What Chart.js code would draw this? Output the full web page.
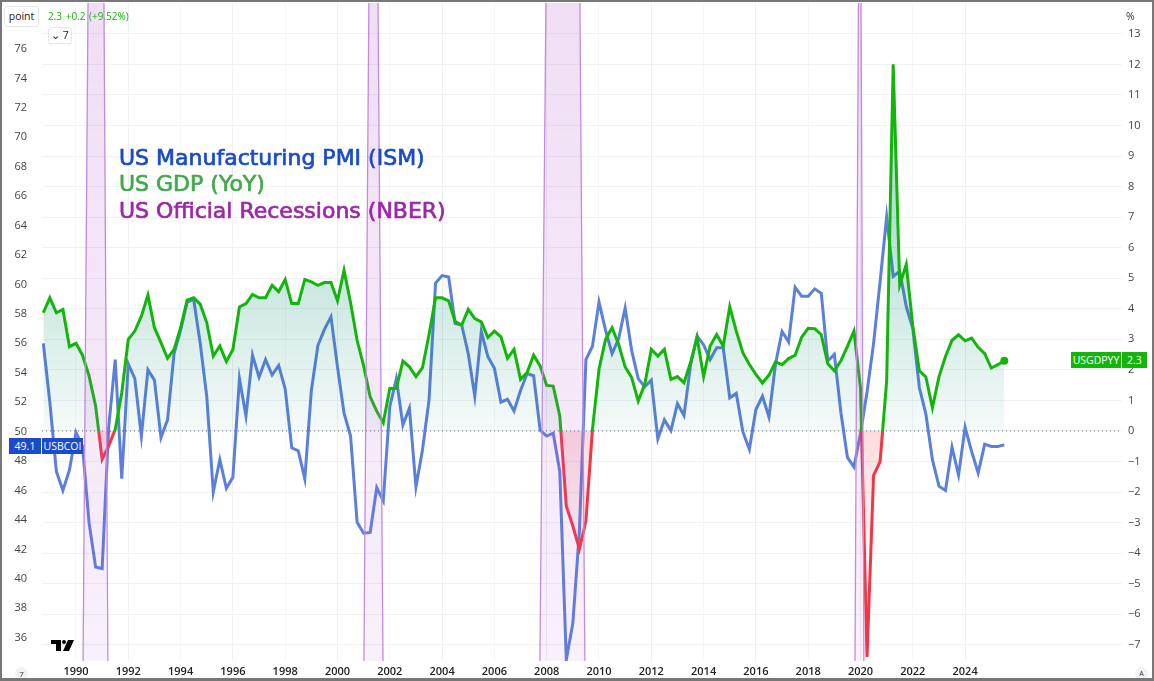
<!DOCTYPE html>
<html>
<head>
<meta charset="utf-8">
<title>US PMI vs GDP</title>
<script src="https://cdn.jsdelivr.net/npm/chart.js@4"></script>
<style>
    html, body { margin: 0; padding: 0; background: #fff; }
    #wrap { position: relative; width: 1154px; height: 681px; overflow: hidden; font-family: "Open Sans", sans-serif; }
    #wrap::after { content: ""; position: absolute; inset: 0; border: 2px solid #777; border-bottom-width: 3px; pointer-events: none; }
    canvas { position: absolute; left: 0; top: 0; }
    .tag { position: absolute; color: #fff; font-size: 10.5px; line-height: 16px; height: 16px; text-align: center; }
    .blue { background: #1a4bc8; }
    .green { background: #12b50a; }
    .title { position: absolute; left: 119px; font-size: 22px; line-height: 26px; white-space: nowrap; font-family: "DejaVu Sans", sans-serif; -webkit-text-stroke: 0.7px currentColor; }
    .box { position: absolute; background: #fff; border: 1px solid #e4e6ec; border-radius: 3px; color: #222; font-size: 10.5px; text-align: center; }
</style>
</head>
<body>
<div id="wrap">
    <canvas id="chart" width="1154" height="681"></canvas>

    <div class="box" style="left:4px;top:6px;width:33px;height:19px;line-height:19px;">point</div>
    <div style="position:absolute;left:48px;top:9px;font-size:10px;color:#12b50a;white-space:nowrap;word-spacing:1px;">2.3 +0.2 (+9.52%)</div>
    <div class="box" style="left:48px;top:27px;width:22px;height:15px;line-height:15px;">&#8964; 7</div>
    <div style="position:absolute;left:1126px;top:9px;font-size:10.5px;color:#333;">%</div>

    <div class="title" style="top:145px;color:#1a4bc8;">US Manufacturing PMI (ISM)</div>
    <div class="title" style="top:171px;color:#43a84a;">US GDP (YoY)</div>
    <div class="title" style="top:198px;color:#9c27a8;">US Official Recessions (NBER)</div>

    <div class="tag blue" style="left:9px;top:438px;width:32px;">49.1</div>
    <div class="tag blue" style="left:42px;top:438px;width:41px;">USBCOI</div>
    <div class="tag green" style="left:1071px;top:352px;width:50px;">USGDPYY</div>
    <div class="tag green" style="left:1122px;top:352px;width:25px;">2.3</div>

    <svg style="position:absolute;left:51px;top:640px;" width="24" height="12" viewBox="0 0 24 12">
        <path d="M0 0h10v11H5V4H0z" fill="#000"/>
        <circle cx="13" cy="2" r="2" fill="#000"/>
        <path d="M17 0h6l-5 11h-6z" fill="#000"/>
    </svg>
    <div style="position:absolute;left:15px;top:667px;width:13px;height:13px;border-radius:50%;background:#f1f2f5;font-size:8px;line-height:13px;text-align:center;color:#333;">7</div>
    <div style="position:absolute;left:1135px;top:667px;width:13px;height:13px;border-radius:50%;background:#f1f2f5;font-size:7px;line-height:13px;text-align:center;color:#333;">A</div>
</div>

<script>
// quarterly points, first one is Q4 1988
const firstQuarter = 1988.75;

// ISM manufacturing PMI
const pmiValues = [
    56.0, 52.0, 47.3, 46.0, 47.4, 49.95, 49.0, 43.8, 40.8, 40.7, 50.3, 54.9,
    46.8, 54.6, 53.6, 49.7, 54.2, 53.5, 49.6, 50.8, 55.3, 56.9, 58.8, 59.0,
    56.0, 52.4, 45.9, 48.1, 46.15, 46.9, 53.6, 51.06, 55.2, 53.7, 54.9, 53.85,
    54.5, 52.9, 48.9, 48.7, 46.8, 52.8, 55.85, 56.95, 57.8, 54.4, 51.25, 49.7,
    43.85, 43.1, 43.15, 46.2, 45.3, 51.7, 53.6, 50.45, 51.6, 46.25, 48.75, 52.15,
    60.1, 60.6, 60.5, 57.35, 57.25, 55.3, 52.4, 56.8, 55.1, 54.3, 52.0, 52.2,
    51.4, 52.8, 53.95, 53.8, 50.1, 49.7, 49.9, 47.3, 34.5, 37.0, 43.2, 54.9,
    55.8, 58.8, 56.9, 55.3, 56.3, 58.4, 55.5, 53.6, 53.05, 53.5, 49.5, 50.8,
    50.07, 51.9, 51.1, 54.5, 56.5, 55.9, 54.9, 55.7, 55.7, 52.3, 52.6, 50.0,
    48.8, 51.5, 52.4, 51.0, 54.6, 56.8, 56.1, 59.8, 59.2, 59.2, 59.7, 59.4,
    54.8, 55.25, 51.3, 48.25, 47.6, 49.9, 52.7, 56.0, 60.2, 64.6, 60.55, 60.9,
    58.5, 57.0, 53.0, 51.2, 48.1, 46.3, 46.0, 48.95, 47.05, 50.3, 48.65, 47.2,
    49.15, 49.0, 49.0, 49.1
];

// US GDP year on year
const gdpValues = [
    3.87, 4.36, 3.87, 3.98, 2.76, 2.87, 2.48, 1.8, 0.82, -0.93, -0.49, 0.05,
    1.25, 3.0, 3.27, 3.76, 4.45, 3.38, 2.89, 2.38, 2.67, 3.38, 4.28, 4.36,
    4.15, 3.55, 2.45, 2.78, 2.27, 2.67, 4.06, 4.17, 4.47, 4.36, 4.36, 4.77,
    4.56, 4.96, 4.17, 4.17, 4.96, 4.88, 4.77, 4.86, 4.86, 4.26, 5.26, 4.2,
    2.97, 2.13, 1.12, 0.65, 0.27, 1.39, 1.39, 2.29, 2.1, 1.78, 2.07, 3.16,
    4.36, 4.36, 4.26, 3.58, 3.47, 3.98, 3.68, 3.57, 3.06, 3.27, 3.08, 2.38,
    2.67, 1.69, 1.91, 2.48, 2.13, 1.49, 1.47, 0.49, -2.46, -3.11, -3.87, -2.95,
    0.05, 2.02, 3.0, 3.38, 2.84, 2.1, 1.75, 0.98, 1.53, 2.67, 2.45, 2.67,
    1.69, 1.78, 1.58, 2.24, 3.06, 1.78, 2.78, 3.16, 2.78, 4.07, 3.27, 2.56,
    2.18, 1.85, 1.57, 1.83, 2.26, 2.17, 2.37, 2.48, 3.07, 3.36, 3.35, 3.15,
    2.2, 1.97, 2.3, 2.77, 3.27, 1.4, -7.4, -1.45, -1.0, 1.63, 12.0, 4.78,
    5.45, 3.44, 1.97, 1.77, 0.76, 1.77, 2.44, 2.97, 3.15, 2.95, 3.04, 2.74,
    2.53, 2.06, 2.17, 2.3
];

// recession bands in years, slightly wider at the bottom of the chart
const recessionTop = [[1990.46, 1991.07], [2001.2, 2001.55], [2007.97, 2009.27], [2019.92, 2020.02]];
const recessionBottom = [[1990.27, 1991.22], [2001.01, 2001.74], [2007.74, 2009.46], [2019.79, 2020.13]];

const yearTicks = [1990, 1992, 1994, 1996, 1998, 2000, 2002, 2004, 2006, 2008, 2010, 2012, 2014, 2016, 2018, 2020, 2022, 2024];
const pmiTicks = [36, 38, 40, 42, 44, 46, 48, 50, 52, 54, 56, 58, 60, 62, 64, 66, 68, 70, 72, 74, 76];
const gdpTicks = [-7, -6, -5, -4, -3, -2, -1, 0, 1, 2, 3, 4, 5, 6, 7, 8, 9, 10, 11, 12, 13];

const toPoints = (values) => values.map((v, i) => ({ x: firstQuarter + i * 0.25, y: v }));
const setTicks = (list) => (scale) => { scale.ticks = list.map(v => ({ value: v })); };

// y axis with fixed width and no room kept for half a label
const fitY = (width) => (s) => { s.width = width; s.paddingTop = 0; s.paddingBottom = 0; };

// bands sit on top of the series, as they were drawn by hand on the chart
const recessionBands = {
    id: 'recessionBands',
    afterDatasetsDraw(chart) {
        const { ctx, chartArea, scales } = chart;
        const grad = ctx.createLinearGradient(0, chartArea.top, 0, chartArea.bottom);
        grad.addColorStop(0, 'rgba(180, 90, 205, 0.2)');
        grad.addColorStop(1, 'rgba(180, 90, 205, 0.09)');
        ctx.save();
        ctx.strokeStyle = '#c48adf';
        ctx.lineWidth = 1.3;
        recessionTop.forEach((top, i) => {
            const bottom = recessionBottom[i];
            const x1 = scales.x.getPixelForValue(top[0]);
            const x2 = scales.x.getPixelForValue(top[1]);
            const x3 = scales.x.getPixelForValue(bottom[1]);
            const x4 = scales.x.getPixelForValue(bottom[0]);
            ctx.beginPath();
            ctx.moveTo(x1, chartArea.top);
            ctx.lineTo(x2, chartArea.top);
            ctx.lineTo(x3, chartArea.bottom);
            ctx.lineTo(x4, chartArea.bottom);
            ctx.closePath();
            ctx.fillStyle = grad;
            ctx.fill();
            // only the long sides get an edge
            ctx.beginPath();
            ctx.moveTo(x1, chartArea.top);
            ctx.lineTo(x4, chartArea.bottom);
            ctx.moveTo(x2, chartArea.top);
            ctx.lineTo(x3, chartArea.bottom);
            ctx.stroke();
        });
        ctx.restore();
    }
};

const chart = new Chart(document.getElementById('chart'), {
    type: 'line',
    data: {
        datasets: [
            {
                label: 'USBCOI',
                data: toPoints(pmiValues),
                yAxisID: 'yLeft',
                borderColor: '#5b7fdc',
                borderWidth: 3,
                pointRadius: 0,
                tension: 0,
                order: 2
            },
            {
                label: 'USGDPYY',
                data: toPoints(gdpValues),
                yAxisID: 'yRight',
                borderColor: '#12b50a',
                borderWidth: 3,
                pointRadius: (c) => c.dataIndex === gdpValues.length - 1 ? 4 : 0,
                pointBackgroundColor: '#12b50a',
                pointBorderWidth: 0,
                tension: 0,
                fill: { target: { value: 0 }, above: 'rgba(0,137,123,0.15)', below: 'rgba(242,54,69,0.1)' },
                order: 1
            },
            {
                label: 'zero',
                data: [{ x: 1988.7, y: 0 }, { x: 2030, y: 0 }],
                yAxisID: 'yRight',
                borderColor: '#667',
                borderWidth: 1,
                borderDash: [1, 3],
                pointRadius: 0,
                order: 3
            }
        ]
    },
    options: {
        responsive: false,
        animation: false,
        layout: { autoPadding: false, padding: { top: 3, bottom: 0 } },
        plugins: { legend: { display: false }, tooltip: { enabled: false } },
        scales: {
            x: {
                type: 'linear',
                min: 1988.7,
                max: 2030,
                afterBuildTicks: setTicks(yearTicks),
                afterFit: (s) => { s.height = 20; s.paddingLeft = 0; s.paddingRight = 0; },
                border: { display: false },
                grid: {
                    drawTicks: false,
                    color: (c) => (c.tick && c.tick.value % 4 === 0) ? '#eef0f3' : '#f5f6f8'
                },
                ticks: {
                    autoSkip: false,
                    maxRotation: 0,
                    padding: 4,
                    color: '#222',
                    font: { family: 'Open Sans', size: 11, weight: '600' },
                    callback: (v) => String(v)
                }
            },
            yLeft: {
                position: 'left',
                min: 34.42,
                max: 79.12,
                afterBuildTicks: setTicks(pmiTicks),
                afterFit: fitY(42),
                border: { display: false },
                grid: { display: false },
                ticks: {
                    padding: 7,
                    color: '#444',
                    font: { family: 'Open Sans', size: 11 },
                    callback: (v) => String(v)
                }
            },
            yRight: {
                position: 'right',
                min: -7.53,
                max: 14.01,
                afterBuildTicks: setTicks(gdpTicks),
                afterFit: fitY(32),
                border: { display: false },
                grid: { drawTicks: false, color: '#f0f2f5' },
                ticks: {
                    padding: 6,
                    color: '#444',
                    font: { family: 'Open Sans', size: 11 },
                    callback: (v) => String(v).replace('-', '\u2212')
                }
            }
        }
    },
    plugins: [recessionBands]
});

// gradients need the laid out chart, so set them afterwards
const area = chart.chartArea;
const zeroY = chart.scales.yRight.getPixelForValue(0);
const ctx = chart.ctx;
const stop = (zeroY - area.top) / (area.bottom - area.top);

const lineGrad = ctx.createLinearGradient(0, area.top, 0, area.bottom);
lineGrad.addColorStop(0, '#12b50a');
lineGrad.addColorStop(stop, '#12b50a');
lineGrad.addColorStop(stop, '#f23645');
lineGrad.addColorStop(1, '#f23645');

const aboveGrad = ctx.createLinearGradient(0, chart.scales.yRight.getPixelForValue(7), 0, zeroY);
aboveGrad.addColorStop(0, 'rgba(0, 137, 110, 0.28)');
aboveGrad.addColorStop(1, 'rgba(0, 137, 110, 0.04)');

const belowGrad = ctx.createLinearGradient(0, zeroY, 0, chart.scales.yRight.getPixelForValue(-4));
belowGrad.addColorStop(0, 'rgba(242, 54, 69, 0.18)');
belowGrad.addColorStop(1, 'rgba(242, 54, 69, 0.04)');

const gdpSet = chart.data.datasets[1];
gdpSet.borderColor = lineGrad;
gdpSet.fill = { target: { value: 0 }, above: aboveGrad, below: belowGrad };
chart.update('none');
</script>
</body>
</html>
